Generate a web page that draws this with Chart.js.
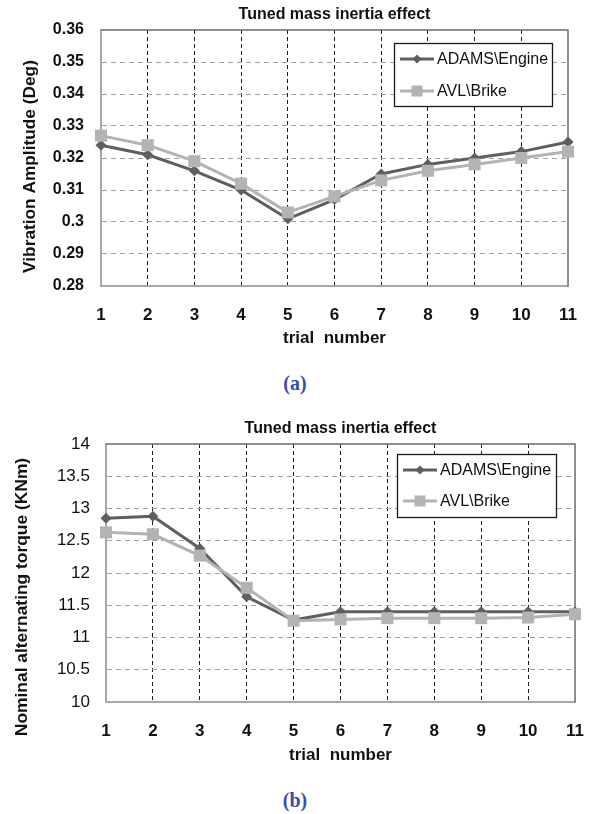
<!DOCTYPE html>
<html><head><meta charset="utf-8">
<script src="https://cdn.jsdelivr.net/npm/chart.js@4"></script>
<style>
html,body{margin:0;padding:0;background:#fff;}
body{width:590px;height:814px;position:relative;overflow:hidden;}
.wrap{position:absolute;left:0;width:590px;height:360px;}
.cap{position:absolute;font-family:"Liberation Serif","DejaVu Serif",serif;font-weight:bold;font-size:20px;color:#3d4d9f;transform:translate(-50%,-50%);white-space:nowrap;}
</style></head><body>
<div class="wrap" style="top:0"><canvas id="ca" width="590" height="360"></canvas></div>
<div class="wrap" style="top:410px"><canvas id="cb" width="590" height="360"></canvas></div>
<div class="cap" style="left:295px;top:383px">(a)</div>
<div class="cap" style="left:295px;top:800px">(b)</div>
<script>
// ---- data ----
const trials = ['1','2','3','4','5','6','7','8','9','10','11'];
const seriesNames = ['ADAMS\\Engine', 'AVL\\Brike'];
const chartTitle = 'Tuned mass inertia effect';
const xAxisTitle = 'trial  number';
const amplitudeTitle = 'Vibration Amplitude (Deg)';
const torqueTitle = 'Nominal alternating torque (KNm)';
const amplitudeAdams = [0.324, 0.321, 0.316, 0.310, 0.301, 0.307, 0.315, 0.318, 0.320, 0.322, 0.325];
const amplitudeAvl   = [0.327, 0.324, 0.319, 0.312, 0.303, 0.308, 0.313, 0.316, 0.318, 0.320, 0.322];
const torqueAdams = [12.85, 12.88, 12.38, 11.63, 11.27, 11.40, 11.40, 11.40, 11.40, 11.40, 11.40];
const torqueAvl   = [12.63, 12.60, 12.27, 11.77, 11.26, 11.28, 11.30, 11.30, 11.30, 11.31, 11.36];
const amplitudeTicks = ['0.28','0.29','0.3','0.31','0.32','0.33','0.34','0.35','0.36'];
const torqueTicks = ['10','10.5','11','11.5','12','12.5','13','13.5','14'];

// ---- styles ----
const DARK = '#5f5f5f', LIGHT = '#b3b3b3';
const SANS = '"Liberation Sans", Arial, sans-serif';

function marker(ctx, style, x, y, s, color) {
  ctx.fillStyle = color;
  ctx.beginPath();
  if (style === 'rectRot') {
    ctx.moveTo(x, y - s); ctx.lineTo(x + s, y); ctx.lineTo(x, y + s); ctx.lineTo(x - s, y);
  } else {
    ctx.rect(x - s, y - s, 2 * s, 2 * s);
  }
  ctx.closePath(); ctx.fill();
}

const boxLegend = {
  id: 'boxLegend',
  afterDatasetsDraw(chart, args, o) {
    const {ctx, chartArea: a} = chart;
    const x = Math.round(a.right - o.right - o.width), y = Math.round(a.top + o.top);
    ctx.save();
    ctx.fillStyle = '#fff'; ctx.fillRect(x, y, o.width, o.height);
    ctx.strokeStyle = '#1a1a1a'; ctx.lineWidth = 1.3; ctx.strokeRect(x + 0.5, y + 0.5, o.width, o.height);
    chart.data.datasets.forEach((ds, i) => {
      const ry = y + o.rows[i];
      ctx.strokeStyle = ds.borderColor; ctx.lineWidth = ds.borderWidth;
      ctx.beginPath(); ctx.moveTo(x + 6, ry); ctx.lineTo(x + 40, ry); ctx.stroke();
      marker(ctx, ds.pointStyle, x + 23, ry, ds.pointStyle === 'rectRot' ? 4.5 : 5.5, ds.borderColor);
      ctx.fillStyle = '#111'; ctx.font = '16px ' + SANS;
      ctx.textBaseline = 'middle'; ctx.textAlign = 'left';
      ctx.fillText(ds.label, x + 43, ry + 1);
    });
    ctx.restore();
  }
};

const yTitle = {
  id: 'yTitle',
  afterDraw(chart, args, o) {
    const {ctx, chartArea: a} = chart;
    ctx.save();
    ctx.translate(o.x, (a.top + a.bottom) / 2 + o.dy);
    ctx.rotate(-Math.PI / 2);
    ctx.textAlign = 'center'; ctx.textBaseline = 'middle';
    ctx.fillStyle = '#111'; ctx.font = 'bold ' + o.size + 'px ' + SANS;
    ctx.fillText(o.text, 0, 0);
    ctx.restore();
  }
};

const frame = {
  id: 'frame',
  beforeDatasetsDraw(chart) {
    const {ctx, chartArea: a} = chart;
    ctx.save();
    ctx.strokeStyle = '#6a6a6a'; ctx.lineWidth = 1.5;
    ctx.beginPath();
    ctx.moveTo(a.left, a.top); ctx.lineTo(a.right, a.top); ctx.lineTo(a.right, a.bottom);
    ctx.stroke();
    ctx.restore();
  }
};

function makeChart(id, adams, avl, yMin, yMax, yStep, yLabels, yText, cfg) {
  const last = trials.length - 1;
  return new Chart(document.getElementById(id), {
    type: 'line',
    data: {
      labels: trials,
      datasets: [
        {label: seriesNames[0], data: adams, borderColor: DARK, backgroundColor: DARK, borderWidth: 3,
         pointStyle: 'rectRot', pointRadius: 5.5, pointBorderWidth: 0, order: 1, clip: false, tension: 0},
        {label: seriesNames[1], data: avl, borderColor: LIGHT, backgroundColor: LIGHT, borderWidth: 3,
         pointStyle: 'rect', pointRadius: 8.5, pointBorderWidth: 0, order: 0, clip: false, tension: 0}
      ]
    },
    options: {
      responsive: false, animation: false, devicePixelRatio: 1,
      layout: {padding: cfg.padding},
      plugins: {
        legend: {display: false}, tooltip: {enabled: false},
        title: {display: true, text: chartTitle, fullSize: false, color: '#111',
                font: {family: SANS, size: 16, weight: 'bold'}, padding: cfg.titlePad},
        boxLegend: cfg.legend,
        yTitle: {text: yText, x: cfg.yTitleX, dy: cfg.yTitleDy, size: cfg.yTitleSize}
      },
      scales: {
        x: {
          type: 'category', offset: false,
          grid: {color: c => (c.index === 0 || c.index === last) ? 'rgba(0,0,0,0)' : '#1a1a1a', lineWidth: 1,
                 drawTicks: true, tickLength: cfg.xTickPad, tickColor: 'rgba(0,0,0,0)'},
          border: {display: true, color: '#a8a8a8', width: 2, dash: [4, 3]},
          ticks: {color: '#111', font: {family: SANS, size: 17, weight: 'bold'}, padding: 0, maxRotation: 0, autoSkip: false},
          title: {display: true, text: xAxisTitle, color: '#111', font: {family: SANS, size: 17, weight: 'bold'}, padding: {top: 0, bottom: 0}},
          afterFit: s => { s.height = cfg.xHeight; }
        },
        y: {
          min: yMin, max: yMax,
          grid: {color: c => (c.index === 0 || c.index === yLabels.length - 1) ? 'rgba(0,0,0,0)' : '#a0a0a0', lineWidth: 1, drawTicks: false},
          border: {display: true, color: '#a8a8a8', width: 2, dash: [5, 4]},
          ticks: {stepSize: yStep, color: '#111', font: cfg.yFont, padding: cfg.yTickPad,
                  callback: (v, i) => yLabels[i]},
          afterFit: s => { s.width = cfg.yWidth; }
        }
      }
    },
    plugins: [frame, boxLegend, yTitle]
  });
}

makeChart('ca', amplitudeAdams, amplitudeAvl, 0.28, 0.36, 0.01, amplitudeTicks, amplitudeTitle, {
  padding: {left: 0, right: 22, top: 0, bottom: 11.8},
  titlePad: {top: 5.4, bottom: 5.4},
  xHeight: 62.2, xTickPad: 19,
  yWidth: 101, yTickPad: 17, yFont: {family: SANS, size: 16, weight: 'bold'},
  yTitleX: 30, yTitleDy: 8.5, yTitleSize: 17.3,
  legend: {right: 16, top: 13, width: 158, height: 63, rows: [16, 48]}
});

makeChart('cb', torqueAdams, torqueAvl, 10, 14, 0.5, torqueTicks, torqueTitle, {
  padding: {left: 0, right: 15, top: 0, bottom: 4.8},
  titlePad: {top: 9.4, bottom: 5.4},
  xHeight: 63.2, xTickPad: 19,
  yWidth: 106, yTickPad: 16, yFont: {family: SANS, size: 17, weight: 'normal'},
  yTitleX: 22.5, yTitleDy: 24, yTitleSize: 17.4,
  legend: {right: 19, top: 10, width: 159, height: 63, rows: [16, 47]}
});
</script>
</body></html>
